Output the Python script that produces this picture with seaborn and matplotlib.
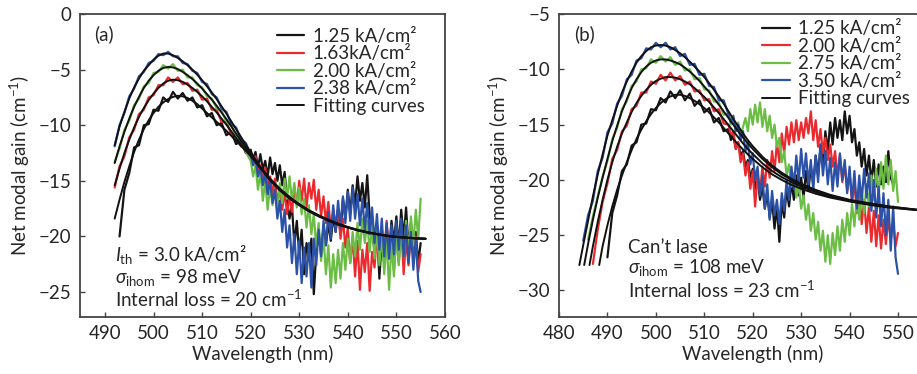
import matplotlib
matplotlib.use("Agg")
import matplotlib.pyplot as plt
import seaborn as sns

sns.set_style("white")
plt.rcParams['font.family'] = ['Lato', 'DejaVu Sans']
plt.rcParams['mathtext.fontset'] = 'custom'
plt.rcParams['mathtext.rm'] = 'Lato'
plt.rcParams['mathtext.it'] = 'Lato:italic'

# ---------------- panel (a) : measured spectra ----------------
# smooth part at 1 nm steps, noisy tail (from 520 nm) at 0.5 nm steps
a_black_head = [-20.0, -15.8, -14.3, -12.0, -11.8, -10.0, -9.9, -8.6, -8.7, -7.5, -7.9, -7.0, -7.6,
                -7.1, -7.8, -7.5, -8.4, -8.2, -9.2, -8.9, -10.0, -9.8, -10.9, -10.6, -11.7, -11.4,
                -12.5]
a_black_tail = [-12.2, -13.0, -12.4, -13.8, -12.6, -14.0, -13.2, -14.6, -12.9, -14.4, -13.4, -15.0,
                -13.6, -15.4, -14.2, -16.8, -18.4, -17.2, -20.8, -18.6, -21.6, -19.4, -23.4, -20.6,
                -22.0, -20.2, -25.2, -21.4, -19.8, -21.6, -19.0, -20.8, -18.8, -20.4, -18.2, -19.6,
                -17.6, -19.8, -16.6, -18.4, -15.8, -17.9, -15.4, -17.2, -14.6, -16.8, -15.2, -17.4,
                -14.5, -18.2, -19.6, -21.2, -19.0, -23.8, -20.2, -22.4, -19.0, -21.4, -18.6, -20.6,
                -18.2, -21.0, -17.6, -20.2, -17.4, -21.0, -18.8, -21.8, -19.6, -22.4, -20.6]
a_red_head = [-15.6, -13.7, -12.8, -11.1, -10.4, -9.0, -8.6, -7.5, -7.3, -6.4, -6.4, -5.7, -6.1,
              -5.7, -6.3, -6.2, -6.9, -6.8, -7.7, -7.6, -8.6, -8.6, -9.7, -9.7, -10.8, -10.9,
              -11.9, -12.0]
a_red_tail = [-12.9, -13.6, -12.8, -14.3, -13.6, -15.0, -13.8, -15.6, -14.6, -16.2, -14.8, -17.0,
              -15.6, -17.6, -16.0, -18.0, -16.4, -17.8, -15.6, -17.2, -15.0, -16.8, -14.8, -17.4,
              -15.2, -16.6, -14.9, -17.6, -15.8, -18.2, -16.4, -18.8, -16.9, -19.4, -17.6, -19.0,
              -17.5, -20.2, -18.4, -21.0, -19.2, -22.4, -20.1, -23.6, -20.4, -24.8, -21.2, -23.2,
              -20.6, -24.9, -21.4, -22.8, -19.8, -22.2, -19.4, -21.8, -18.6, -22.0, -19.6, -23.0,
              -19.8, -22.4, -19.0, -23.4, -20.2, -22.6, -19.4, -21.8, -20.0, -23.2, -21.6]
a_green_head = [-13.3, -12.1, -10.4, -9.6, -8.2, -7.6, -6.5, -6.2, -5.3, -5.2, -4.6, -4.9, -4.5,
                -5.1, -5.0, -5.7, -5.7, -6.4, -6.6, -7.4, -7.6, -8.5, -8.7, -9.7, -10.0, -11.0,
                -11.3, -12.4]
a_green_tail = [-13.2, -14.6, -13.6, -15.8, -14.2, -16.8, -15.0, -17.6, -15.4, -17.2, -15.8, -17.8,
                -15.2, -17.0, -14.8, -16.6, -14.6, -16.8, -15.2, -17.4, -15.6, -18.0, -16.6, -19.2,
                -17.2, -19.8, -18.0, -21.0, -18.8, -22.2, -20.0, -23.4, -20.8, -24.6, -21.6, -24.2,
                -21.2, -23.8, -20.6, -23.0, -20.2, -22.4, -19.6, -21.8, -18.8, -21.2, -18.4, -20.6,
                -18.6, -21.4, -19.0, -22.0, -19.4, -22.6, -19.8, -23.4, -20.2, -24.8, -20.6, -23.6,
                -19.8, -22.6, -19.2, -21.8, -18.6, -21.4, -18.2, -20.8, -17.6, -20.2, -16.6]
a_blue_head = [-11.9, -10.0, -8.9, -7.4, -6.7, -5.6, -5.2, -4.4, -4.2, -3.6, -3.7, -3.4, -3.8,
               -3.8, -4.4, -4.5, -5.1, -5.3, -6.1, -6.3, -7.2, -7.5, -8.5, -8.8, -9.9, -10.2,
               -11.3, -11.6]
a_blue_tail = [-12.6, -13.6, -13.0, -14.6, -13.8, -15.4, -14.4, -16.2, -15.0, -17.0, -15.8, -18.4,
               -16.8, -19.6, -17.6, -21.0, -19.0, -22.4, -19.8, -23.4, -20.4, -24.2, -21.0, -23.6,
               -20.6, -24.6, -20.2, -22.6, -19.4, -21.8, -18.6, -20.8, -17.8, -20.2, -17.2, -19.6,
               -16.8, -19.2, -16.4, -18.8, -16.0, -18.6, -15.6, -18.4, -16.2, -19.0, -16.6, -19.4,
               -17.0, -19.8, -17.4, -20.6, -18.0, -21.2, -18.4, -21.8, -18.8, -22.0, -19.0, -21.6,
               -18.6, -21.2, -18.4, -21.8, -19.0, -22.4, -19.6, -23.0, -20.2, -24.0, -25.0]

# panel (a) : fitting curves
fit_a_wl = list(range(492, 521)) + list(range(522, 557, 2))
fit_a_black = [-18.4, -16.7, -15.1, -13.7, -12.4, -11.3, -10.35, -9.55, -8.9, -8.35, -7.95, -7.65,
               -7.45, -7.35, -7.4, -7.55, -7.8, -8.1, -8.5, -8.9, -9.3, -9.7, -10.1, -10.5, -10.95,
               -11.4, -11.85, -12.3, -12.75, -13.75, -14.8, -15.7, -16.45, -17.1, -17.65, -18.1,
               -18.5, -18.85, -19.15, -19.4, -19.6, -19.78, -19.92, -20.03, -20.1, -20.16, -20.2]
fit_a_red = [-15.4, -13.9, -12.5, -11.3, -10.2, -9.25, -8.45, -7.75, -7.15, -6.65, -6.25, -6.0,
             -5.9, -5.95, -6.1, -6.35, -6.65, -7.0, -7.4, -7.85, -8.35, -8.85, -9.4, -9.95, -10.55,
             -11.15, -11.7, -12.25, -12.75, -13.85, -14.9, -15.8, -16.5, -17.12, -17.68, -18.13,
             -18.53, -18.88, -19.18, -19.43, -19.63, -19.79, -19.94, -20.04, -20.11, -20.17, -20.21]
fit_a_green = [-13.4, -11.9, -10.6, -9.4, -8.35, -7.45, -6.65, -6.0, -5.5, -5.1, -4.85, -4.75,
               -4.8, -4.95, -5.2, -5.5, -5.85, -6.25, -6.7, -7.2, -7.7, -8.25, -8.85, -9.45, -10.1,
               -10.75, -11.4, -12.0, -12.6, -13.85, -14.95, -15.85, -16.55, -17.15, -17.7, -18.15,
               -18.55, -18.9, -19.2, -19.45, -19.65, -19.8, -19.95, -20.05, -20.12, -20.18, -20.22]
fit_a_blue = [-11.8, -10.1, -8.8, -7.6, -6.6, -5.8, -5.1, -4.6, -4.1, -3.75, -3.55, -3.55, -3.7,
              -3.95, -4.25, -4.6, -5.0, -5.45, -5.95, -6.5, -7.05, -7.65, -8.3, -8.95, -9.65,
              -10.35, -11.05, -11.75, -12.45, -13.8, -14.95, -15.85, -16.6, -17.2, -17.75, -18.2,
              -18.6, -18.95, -19.2, -19.45, -19.65, -19.8, -19.95, -20.05, -20.12, -20.18, -20.22]

# ---------------- panel (b) : measured spectra ----------------
# smooth part at 1 nm steps, noisy tail (from 515 nm) at 0.5 nm steps
b_black_head = [-27.0, -23.0, -21.4, -19.2, -18.6, -16.9, -16.6, -15.0, -14.9, -13.6, -13.7, -12.6,
                -13.0, -12.0, -12.6, -11.9, -12.8, -12.2, -13.3, -12.8, -13.9, -13.5, -14.8, -14.4,
                -15.6]
b_black_tail = [-15.4, -16.4, -16.0, -17.2, -16.6, -17.8, -17.4, -18.8, -18.2, -19.8, -19.0, -20.8,
                -19.8, -21.8, -20.6, -22.6, -21.2, -23.4, -21.8, -24.4, -22.4, -25.6, -22.0, -23.4,
                -20.8, -22.4, -20.2, -21.8, -19.6, -21.4, -19.8, -21.6, -19.2, -21.0, -18.8, -20.4,
                -17.8, -19.6, -16.8, -18.6, -15.6, -17.4, -14.8, -16.8, -14.4, -16.2, -14.6, -16.4,
                -13.8, -15.8, -14.2, -16.6, -15.4, -17.8, -16.6, -18.8, -17.2, -19.6, -17.8, -20.2,
                -18.2, -20.6, -18.6, -20.4, -18.8, -20.2, -17.4, -19.8, -20.4]
b_red_head = [-27.6, -24.5, -22.0, -20.3, -18.1, -17.3, -15.6, -15.1, -13.6, -13.3, -12.1, -12.1,
              -11.1, -11.3, -10.5, -11.0, -10.3, -11.0, -10.6, -11.4, -11.1, -12.0, -11.9, -12.8,
              -12.7, -13.8, -13.6, -14.9]
b_red_tail = [-15.0, -16.0, -15.6, -17.2, -16.6, -18.4, -17.6, -19.6, -18.4, -20.8, -19.2, -22.4,
              -19.6, -21.2, -18.8, -20.6, -18.2, -19.8, -17.4, -19.2, -16.6, -18.4, -15.8, -17.6,
              -15.2, -16.8, -14.8, -16.6, -14.6, -16.4, -14.8, -16.2, -14.4, -15.8, -13.8, -16.4,
              -14.6, -17.0, -15.4, -17.6, -16.2, -18.2, -16.8, -18.8, -17.4, -19.6, -17.8, -20.2,
              -18.6, -21.0, -19.4, -22.0, -20.2, -23.0, -21.0, -24.0, -21.8, -24.8, -22.4, -25.6,
              -22.8, -26.0, -23.2, -26.2, -23.6, -25.8, -23.4, -25.4, -23.8, -26.0, -24.8]
b_green_head = [-25.4, -23.3, -21.5, -19.7, -18.3, -16.3, -15.3, -13.6, -12.9, -11.5, -11.1, -10.0,
                -9.9, -9.1, -9.4, -8.8, -9.3, -8.9, -9.6, -9.3, -10.1, -10.0, -10.9, -10.8, -11.8,
                -11.9, -12.9, -13.0, -14.1]
b_green_tail = [-14.0, -15.0, -14.6, -15.6, -14.8, -16.0, -15.2, -14.4, -15.6, -13.6, -15.0, -13.2,
                -14.8, -13.0, -15.2, -13.6, -15.6, -14.2, -16.2, -15.0, -17.0, -16.2, -18.4, -17.4,
                -19.6, -18.6, -20.6, -19.4, -21.6, -20.4, -22.6, -21.4, -23.6, -22.2, -24.6, -23.0,
                -25.4, -23.8, -26.4, -24.6, -27.4, -25.0, -27.6, -24.8, -26.8, -24.2, -26.4, -23.6,
                -25.6, -23.0, -25.0, -22.2, -24.2, -21.6, -23.6, -21.0, -23.0, -20.4, -22.4, -19.6,
                -21.8, -19.0, -21.4, -18.4, -20.8, -17.8, -20.4, -18.2, -21.0, -19.2, -22.0]
b_blue_head = [-25.5, -23.2, -21.9, -19.2, -18.0, -15.7, -14.9, -13.1, -12.4, -10.9, -10.5, -9.2,
               -9.0, -8.1, -8.2, -7.6, -8.0, -7.6, -8.2, -8.0, -8.8, -8.6, -9.6, -9.5, -10.5,
               -10.4, -11.5, -11.6, -12.8, -12.8]
b_blue_tail = [-14.1, -14.8, -14.2, -15.6, -15.0, -16.4, -15.6, -17.4, -16.6, -18.6, -17.6, -20.0,
               -18.8, -21.4, -19.6, -22.6, -20.4, -23.6, -21.0, -23.2, -21.8, -24.0, -21.2, -22.8,
               -20.0, -21.8, -18.8, -20.8, -17.8, -20.2, -17.2, -19.8, -17.6, -20.4, -18.2, -21.0,
               -17.8, -20.2, -16.8, -19.6, -17.4, -20.4, -18.0, -21.0, -18.4, -20.6, -17.6, -20.0,
               -18.2, -21.2, -18.8, -22.0, -19.2, -22.6, -19.6, -22.0, -19.0, -21.6, -19.4, -22.8,
               -20.0, -23.4, -20.6, -24.2, -21.2, -25.0, -21.8, -26.4, -22.4, -27.0, -28.5]

# panel (b) : fitting curves
fit_b_tail_wl = [522, 524, 526, 528, 530, 533, 536, 540, 544, 548, 552, 556, 560]
fit_b_blue_wl = [484.2] + list(range(485, 521)) + fit_b_tail_wl
fit_b_blue = [-27.7, -25.9, -23.7, -21.5, -19.5, -17.7, -16.0, -14.6, -13.3, -12.1, -11.1, -10.2,
              -9.4, -8.8, -8.35, -8.0, -7.85, -7.8, -7.85, -8.0, -8.25, -8.55, -8.9, -9.3, -9.75,
              -10.2, -10.7, -11.25, -11.85, -12.45, -13.1, -13.8, -14.5, -15.15, -15.8, -16.4,
              -16.95, -17.9, -18.7, -19.35, -19.9, -20.35, -20.9, -21.35, -21.8, -22.1, -22.4,
              -22.6, -22.8, -22.95]
fit_b_green_wl = [485.2] + list(range(486, 521)) + fit_b_tail_wl
fit_b_green = [-27.7, -25.8, -23.6, -21.6, -19.8, -18.1, -16.5, -15.1, -13.8, -12.7, -11.7, -10.9,
               -10.25, -9.75, -9.4, -9.2, -9.1, -9.1, -9.2, -9.35, -9.55, -9.85, -10.2, -10.6,
               -11.05, -11.55, -12.05, -12.6, -13.2, -13.8, -14.4, -15.0, -15.6, -16.15, -16.7,
               -17.2, -18.1, -18.85, -19.5, -20.0, -20.45, -21.0, -21.4, -21.85, -22.15, -22.4,
               -22.6, -22.8, -22.95]
fit_b_red_wl = [486.3] + list(range(487, 521)) + fit_b_tail_wl
fit_b_red = [-27.7, -26.0, -23.8, -21.8, -20.0, -18.4, -17.0, -15.8, -14.8, -13.85, -13.05, -12.4,
             -11.85, -11.4, -11.05, -10.85, -10.7, -10.7, -10.75, -10.9, -11.1, -11.35, -11.7,
             -12.1, -12.5, -12.95, -13.45, -13.95, -14.5, -15.05, -15.6, -16.15, -16.7, -17.2,
             -17.65, -18.5, -19.2, -19.75, -20.2, -20.6, -21.1, -21.5, -21.9, -22.2, -22.45,
             -22.65, -22.8, -22.95]
fit_b_black_wl = [488.3] + list(range(489, 521)) + fit_b_tail_wl
fit_b_black = [-27.7, -26.0, -24.1, -22.4, -20.9, -19.6, -18.4, -17.3, -16.3, -15.45, -14.7,
               -14.05, -13.5, -13.05, -12.7, -12.45, -12.3, -12.3, -12.4, -12.6, -12.85, -13.15,
               -13.5, -13.9, -14.35, -14.8, -15.3, -15.8, -16.3, -16.8, -17.25, -17.7, -18.1,
               -18.85, -19.5, -20.0, -20.45, -20.8, -21.25, -21.6, -21.95, -22.25, -22.5, -22.65,
               -22.8, -22.95]

labels_a = ['1.25 kA/cm²', '1.63kA/cm²', '2.00 kA/cm²', '2.38 kA/cm²']
labels_b = ['1.25 kA/cm²', '2.00 kA/cm²', '2.75 kA/cm²', '3.50 kA/cm²']
colors = ['#141414', '#ea2a2e', '#6cbd45', '#2c52a8']


def spectrum(start, head, tail_start, tail):
    wl = [start + i for i in range(len(head))] + [tail_start + 0.5 * i for i in range(len(tail))]
    return wl, head + tail


fig = plt.figure(figsize=(9.17, 3.74), dpi=100)
ax1 = fig.add_axes([0.0872, 0.1524, 0.398, 0.810])
ax2 = fig.add_axes([0.6096, 0.1524, 0.4225, 0.810])


def draw_panel(ax, data, fits, labels):
    for (x, y), c, lab in zip(data, colors, labels):
        sns.lineplot(x=x, y=y, color=c, lw=1.6, ax=ax, label=lab)
    for i, (x, y) in enumerate(fits):
        sns.lineplot(x=x, y=y, color='#111111', lw=1.4, ax=ax,
                     label='Fitting curves' if i == 0 else None)


draw_panel(ax1,
           [spectrum(493, a_black_head, 520, a_black_tail), spectrum(492, a_red_head, 520, a_red_tail),
            spectrum(492, a_green_head, 520, a_green_tail), spectrum(492, a_blue_head, 520, a_blue_tail)],
           [(fit_a_wl, fit_a_black), (fit_a_wl, fit_a_red), (fit_a_wl, fit_a_green), (fit_a_wl, fit_a_blue)],
           labels_a)
draw_panel(ax2,
           [spectrum(490, b_black_head, 515, b_black_tail), spectrum(487, b_red_head, 515, b_red_tail),
            spectrum(486, b_green_head, 515, b_green_tail), spectrum(485, b_blue_head, 515, b_blue_tail)],
           [(fit_b_black_wl, fit_b_black), (fit_b_red_wl, fit_b_red),
            (fit_b_green_wl, fit_b_green), (fit_b_blue_wl, fit_b_blue)],
           labels_b)

ax1.set_xlim(484.85, 560)
ax1.set_ylim(-27.25, 0)
ax1.set_xticks(range(490, 561, 10))
ax1.set_yticks(range(-25, 1, 5))
ax2.set_xlim(480, 560)
ax2.set_ylim(-32.4, -5)
ax2.set_xticks(range(480, 551, 10))
ax2.set_yticks(range(-30, -4, 5))

for ax, tag in [(ax1, '(a)'), (ax2, '(b)')]:
    ax.set_xlabel('Wavelength (nm)', fontsize=13.5, labelpad=2)
    ax.set_ylabel('Net modal gain (cm$^{-1}$)', fontsize=13.5, labelpad=5)
    ax.tick_params(labelsize=13.5, direction='in', length=3.5, width=1, color='#444444',
                   bottom=True, left=True, pad=6)
    for s in ax.spines.values():
        s.set_color('#444444')
        s.set_linewidth(1.3)
    ax.text(0.04, 0.935, tag, transform=ax.transAxes, fontsize=13.5, va='center')

leg_kw = dict(loc='upper left', frameon=False, fontsize=13.5, handlelength=1.45,
              handletextpad=0.45, labelspacing=0.03, borderpad=0, borderaxespad=0)
ax1.legend(bbox_to_anchor=(0.54, 0.955), **leg_kw)
ax2.legend(bbox_to_anchor=(0.525, 0.98), **leg_kw)

fs = 13.5
ax1.text(0.096, 0.205, r'$I_{\rm th}$ = 3.0 kA/cm²', transform=ax1.transAxes, fontsize=fs, va='center')
ax1.text(0.096, 0.129, r'$\sigma_{\rm ihom}$ = 98 meV', transform=ax1.transAxes, fontsize=fs, va='center')
ax1.text(0.096, 0.060, 'Internal loss = 20 cm$^{-1}$', transform=ax1.transAxes, fontsize=fs, va='center')

ax2.text(0.178, 0.231, 'Can\u2019t lase', transform=ax2.transAxes, fontsize=fs, va='center')
ax2.text(0.178, 0.162, r'$\sigma_{\rm ihom}$ = 108 meV', transform=ax2.transAxes, fontsize=fs, va='center')
ax2.text(0.178, 0.089, 'Internal loss = 23 cm$^{-1}$', transform=ax2.transAxes, fontsize=fs, va='center')

fig.savefig('out.png', dpi=100)
